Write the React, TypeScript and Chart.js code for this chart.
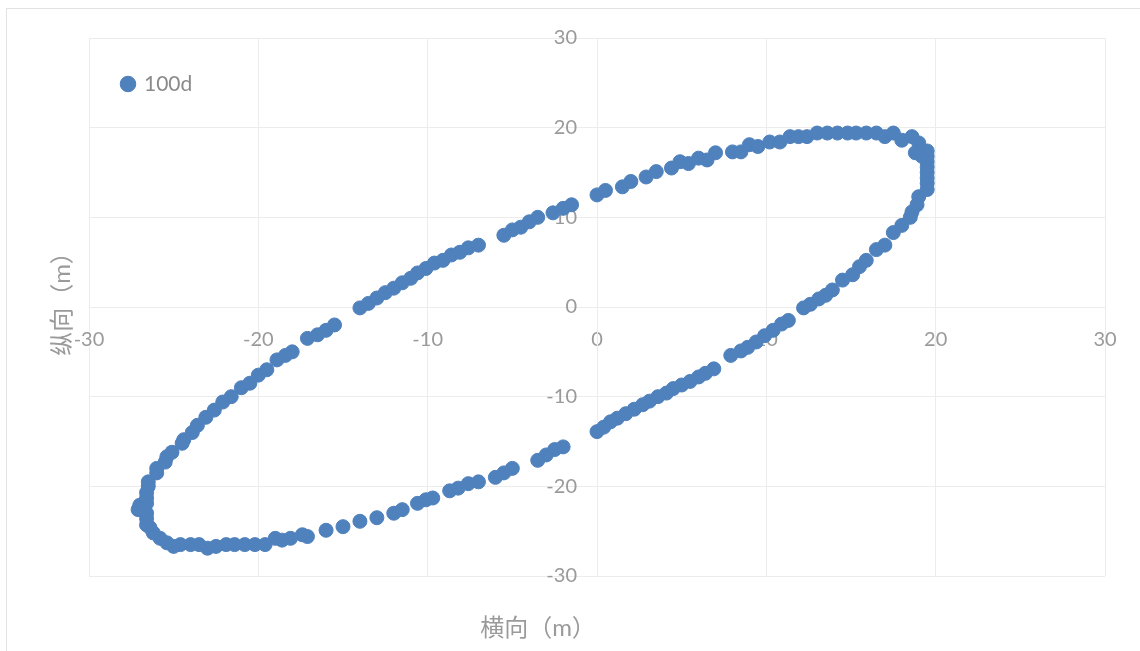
import { useEffect, useRef } from "react";
import { Chart, registerables } from "chart.js";

Chart.register(...registerables);

// Upper branch of the loop, from the lower-left corner up to the top-right
const upperX = [
  -26.6, -26.5, -26.5, -26.0, -26.0, -25.5, -25.4, -25.1, -24.5, -24.4,
  -23.9, -23.6, -23.1, -22.6, -22.1, -21.6, -21.0, -20.5, -20.0, -19.5,
  -18.9, -18.4, -18.0, -17.1, -16.5, -16.0, -15.5, -14.0, -13.5, -13.0,
  -12.5, -12.0, -11.5, -11.0, -10.6, -10.1, -9.6, -9.1, -8.6, -8.1,
  -7.6, -7.0, -5.5, -5.0, -4.5, -4.0, -3.5, -2.6, -2.0, -1.5,
  0.0, 0.5, 1.5, 2.0, 2.9, 3.5, 4.4, 4.9, 5.4, 6.0,
  6.5, 7.0, 8.0, 8.5, 9.0, 9.5, 10.2, 10.8, 11.4, 11.9,
  12.4, 13.0, 13.6, 14.2, 14.8, 15.3, 15.9, 16.5, 17.0, 17.5,
  18.0, 18.6, 19.0, 18.8, 19.2, 19.5, 19.5, 19.5, 19.5, 19.5,
  19.5, 19.5, 19.5,
];
const upperY = [
  -20.7, -20.0, -19.5, -18.5, -18.0, -17.3, -16.7, -16.2, -15.2, -14.8,
  -14.0, -13.2, -12.3, -11.5, -10.6, -10.0, -9.0, -8.5, -7.6, -7.0,
  -5.9, -5.4, -5.0, -3.5, -3.1, -2.6, -2.0, -0.1, 0.4, 1.0,
  1.6, 2.1, 2.7, 3.2, 3.8, 4.3, 4.9, 5.2, 5.8, 6.1,
  6.6, 6.9, 8.0, 8.6, 8.9, 9.5, 10.0, 10.5, 11.0, 11.4,
  12.5, 13.0, 13.4, 14.0, 14.5, 15.1, 15.5, 16.2, 16.0, 16.6,
  16.4, 17.2, 17.3, 17.3, 18.1, 17.9, 18.4, 18.4, 19.0, 19.0,
  19.0, 19.4, 19.4, 19.4, 19.4, 19.4, 19.4, 19.4, 19.0, 19.4,
  18.6, 19.0, 18.3, 17.2, 16.8, 17.4, 16.8, 16.2, 15.6, 15.0,
  14.4, 13.8, 13.1,
];

// Lower branch, from the right edge back down to the lower-left corner
const lowerX = [
  19.0, 18.9, 18.6, 18.5, 18.0, 17.5, 17.0, 16.5, 15.9, 15.5,
  15.1, 14.5, 13.9, 13.5, 13.1, 12.6, 12.2, 11.3, 10.9, 10.4,
  9.9, 9.4, 8.9, 8.5, 7.9, 6.9, 6.4, 6.0, 5.5, 5.0,
  4.5, 4.1, 3.6, 3.1, 2.7, 2.2, 1.7, 1.2, 0.8, 0.4,
  0.0, -2.0, -2.5, -3.0, -3.5, -5.0, -5.5, -6.0, -7.0, -7.6,
  -8.2, -8.7, -9.7, -10.1, -10.6, -11.5, -12.0, -13.0, -14.0, -15.0,
  -16.0, -17.1, -17.4, -18.1, -18.6, -19.0, -19.6, -20.2, -20.8, -21.4,
  -21.9, -22.5, -23.0, -23.5, -24.0, -24.6, -25.0, -25.4, -25.8, -26.2,
  -26.4, -26.6, -26.6, -26.6, -27.1, -27.0, -26.6, -26.6,
];
const lowerY = [
  12.3, 11.4, 10.6, 10.0, 9.1, 8.3, 6.9, 6.4, 5.2, 4.5,
  3.6, 3.0, 1.9, 1.3, 0.9, 0.3, -0.1, -1.5, -1.9, -2.6,
  -3.2, -3.9, -4.5, -4.9, -5.4, -6.9, -7.4, -7.8, -8.3, -8.7,
  -9.1, -9.6, -10.0, -10.5, -10.9, -11.4, -11.9, -12.4, -12.8, -13.4,
  -13.9, -15.6, -15.9, -16.5, -17.1, -18.0, -18.5, -19.0, -19.5, -19.7,
  -20.2, -20.5, -21.3, -21.5, -21.9, -22.6, -23.0, -23.5, -23.9, -24.5,
  -24.9, -25.6, -25.4, -25.8, -26.0, -25.8, -26.5, -26.5, -26.5, -26.5,
  -26.5, -26.7, -26.9, -26.5, -26.5, -26.5, -26.7, -26.3, -25.8, -25.2,
  -24.6, -24.3, -23.6, -23.0, -22.6, -22.1, -21.9, -21.3,
];

const seriesLabel = "100d";
const axisMin = -30;
const axisMax = 30;
const axisStep = 10;
const xTitle = "横向（m）";
const yTitle = "纵向（m）";

const pointColor = "#4F81BD";
const gridColor = "#ececec";
const textColor = "#9a9a9a";
const fontFamily = "Lato, 'Noto Sans CJK SC', sans-serif";

// Outer frame and the two axis titles, which sit at the chart's edges
// rather than beside the axes that cross at the origin.
const frameAndTitles = {
  id: "frameAndTitles",
  beforeDraw(chart: Chart) {
    const { ctx, width, height } = chart;
    ctx.save();
    ctx.fillStyle = "#ffffff";
    ctx.fillRect(0, 0, width, height);
    ctx.strokeStyle = "#e2e2e2";
    ctx.lineWidth = 1;
    ctx.strokeRect(6.5, 8.5, width, height);
    ctx.restore();
  },
  afterDraw(chart: Chart) {
    const { ctx } = chart;
    ctx.save();
    ctx.fillStyle = textColor;
    ctx.font = `24px ${fontFamily}`;
    ctx.textAlign = "center";
    ctx.textBaseline = "middle";
    ctx.fillText(xTitle, 538, 628);
    ctx.translate(62, 298);
    ctx.rotate(-Math.PI / 2);
    ctx.fillText(yTitle, 0, 0);
    ctx.restore();
  },
};

function buildPoints() {
  const pts = upperX.map((x, i) => ({ x, y: upperY[i] }));
  return pts.concat(lowerX.map((x, i) => ({ x, y: lowerY[i] })));
}

export default function App() {
  const canvasRef = useRef<HTMLCanvasElement | null>(null);

  useEffect(() => {
    if (!canvasRef.current) return;
    const tickFont = { family: fontFamily, size: 20 };
    const chart = new Chart(canvasRef.current, {
      type: "scatter",
      data: {
        datasets: [
          {
            label: seriesLabel,
            data: buildPoints(),
            backgroundColor: pointColor,
            borderColor: pointColor,
            borderWidth: 1,
            pointRadius: 7,
            pointHoverRadius: 7,
          },
        ],
      },
      options: {
        responsive: false,
        animation: false,
        layout: { padding: { left: 89, right: 35, top: 38, bottom: 75 } },
        plugins: {
          tooltip: { enabled: false },
          legend: {
            display: true,
            position: "chartArea",
            align: "start",
            title: { display: true, text: "", font: { size: 10 }, padding: { top: 28, bottom: 0 } },
            labels: {
              usePointStyle: true,
              pointStyle: "circle",
              boxHeight: 11,
              boxWidth: 11,
              padding: 33.5,
              color: "#8a8a8a",
              font: { family: fontFamily, size: 21 },
            },
          },
        },
        scales: {
          x: {
            type: "linear",
            axis: "x",
            position: "center",
            min: axisMin,
            max: axisMax,
            ticks: { stepSize: axisStep, color: textColor, font: tickFont, padding: 21, maxRotation: 0 },
            grid: { color: gridColor, drawTicks: false },
            border: { color: gridColor },
            afterFit: (s: any) => {
              s.height = 0;
            },
          },
          y: {
            type: "linear",
            axis: "y",
            position: "center",
            min: axisMin,
            max: axisMax,
            ticks: { stepSize: axisStep, color: textColor, font: tickFont, padding: 20 },
            grid: { color: gridColor, drawTicks: false },
            border: { color: gridColor },
            afterFit: (s: any) => {
              s.width = 0;
            },
          },
        },
      },
      plugins: [frameAndTitles],
    } as any);
    return () => chart.destroy();
  }, []);

  return (
    <div style={{ position: "fixed", left: 0, top: 0, width: 1140, height: 651, background: "#fff" }}>
      <canvas ref={canvasRef} width={1140} height={651} style={{ display: "block" }} />
    </div>
  );
}
